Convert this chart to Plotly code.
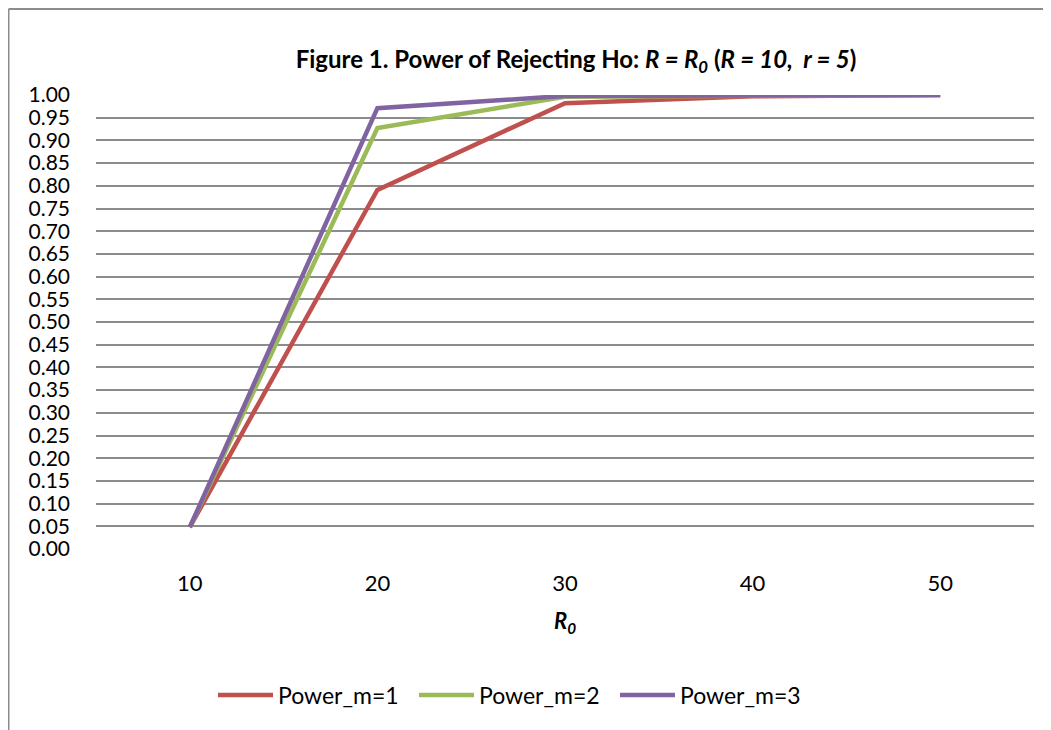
import plotly.graph_objects as go

categories = ["10", "20", "30", "40", "50"]
power_m1 = [0.048, 0.791, 0.982, 0.997, 1.000]
power_m2 = [0.048, 0.927, 0.996, 0.999, 1.000]
power_m3 = [0.048, 0.971, 0.998, 1.000, 1.000]
series_names = ["Power_m=1", "Power_m=2", "Power_m=3"]
colors = ["#C0504D", "#9BBB59", "#8064A2"]
y_ticks = [round(i * 0.05, 2) for i in range(21)]

FONT = "Lato, 'Open Sans', sans-serif"

# page body has an 8px margin, so figure coords = screen - 8
W, H = 1043, 722
L, T, R, B = 88, 87, 17, 181
PW = W - L - R
PH = H - T - B

fig = go.Figure()
for name, vals, col in zip(series_names, [power_m1, power_m2, power_m3], colors):
    fig.add_trace(go.Scatter(x=categories, y=vals, mode="lines", name=name,
                             line=dict(color=col, width=4.5)))

fig.update_layout(
    width=W, height=H,
    margin=dict(l=L, r=R, t=T, b=B),
    paper_bgcolor="white", plot_bgcolor="white",
    font=dict(family=FONT, size=22, color="black"),
    title=dict(
        text="<b>Figure 1. Power of Rejecting Ho: <i>R = R<sub>0</sub></i> (<i>R = 10,&nbsp; r = 5</i>)</b>",
        x=(576 - 96) / PW, xref="paper", xanchor="center",
        y=1 - 52 / H, yref="container", yanchor="middle",
        font=dict(family=FONT, size=24, color="black"),
    ),
    xaxis=dict(type="category", range=[-0.5, 4.5], showgrid=False, zeroline=False,
               showline=False, ticks="", tickfont=dict(size=22), ticklabelstandoff=19,
               title=dict(text="<b><i>R<sub>0</sub></i></b>", font=dict(size=22), standoff=18)),
    yaxis=dict(range=[0, 1.0], tickvals=y_ticks, tickformat=".2f", showgrid=True,
               gridcolor="#8c8c8c", gridwidth=2, zeroline=False, showline=False,
               ticks="", tickfont=dict(size=21), ticklabelstandoff=25),
    legend=dict(orientation="h", x=(205 - L) / PW, xanchor="left",
                y=-(687 - (T + PH)) / PH, yanchor="middle",
                font=dict(size=23), entrywidth=131, entrywidthmode="pixels",
                itemwidth=55, tracegroupgap=0),
    showlegend=True,
)

# outer chart border (left and top edges visible)
fx = (0.5 - L) / PW
fy = 1 + (T - 1) / PH
fig.add_shape(type="line", xref="paper", yref="paper",
              x0=fx, x1=fx, y0=fy, y1=-(B + 20) / PH,
              line=dict(color="#8c8c8c", width=2))
fig.add_shape(type="line", xref="paper", yref="paper",
              x0=fx, x1=1 + (R + 20) / PW, y0=fy, y1=fy,
              line=dict(color="#8c8c8c", width=2))

fig.write_html("out.html")
